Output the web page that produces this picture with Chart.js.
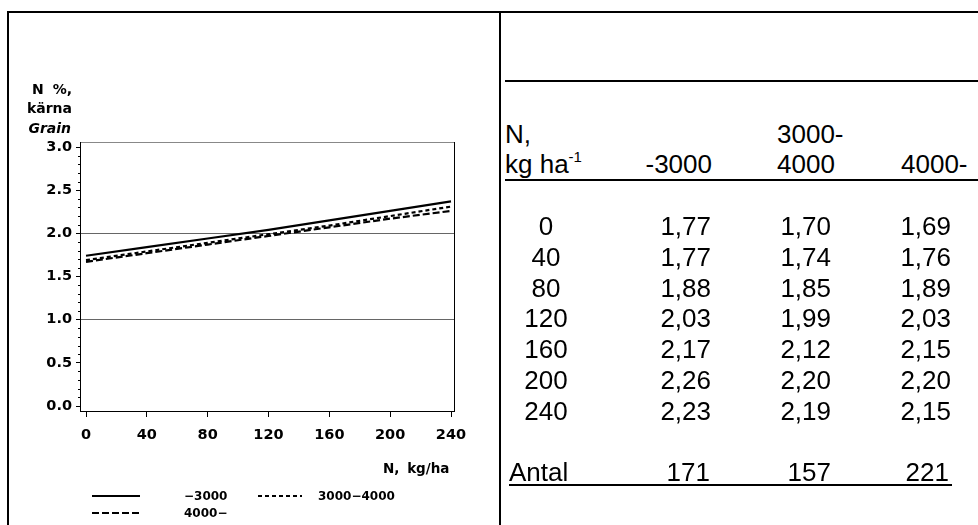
<!DOCTYPE html>
<html>
<head>
<meta charset="utf-8">
<script src="https://cdn.jsdelivr.net/npm/chart.js@4"></script>
<style>
  html, body { margin:0; padding:0; background:#fff; }
  body { width:978px; height:525px; position:relative; overflow:hidden; }
  #c { position:absolute; left:0; top:0; }
  .ln { position:absolute; background:#000; }
  .t { position:absolute; font-family:"Liberation Sans", Arial, sans-serif; font-size:26px; line-height:30px; color:#000; white-space:nowrap; }
  .lab { position:absolute; font-family:"DejaVu Sans", sans-serif; font-weight:bold; color:#000; white-space:nowrap; }
</style>
</head>
<body>
<canvas id="c" width="500" height="525"></canvas>
<div id="overlay"></div>
<script>
// ---- chart data ----
const nLevels = [0, 40, 80, 120, 160, 200, 240];
const seriesLabels = ['\u22123000', '3000\u22124000', '4000\u2212'];
const lineLow  = [1.74, 1.84, 1.94, 2.04, 2.15, 2.26, 2.37];
const lineMid  = [1.69, 1.79, 1.89, 1.99, 2.09, 2.20, 2.31];
const lineHigh = [1.67, 1.77, 1.87, 1.97, 2.07, 2.17, 2.26];
const xTicks = [0, 40, 80, 120, 160, 200, 240];
const yTicks = [0, 0.5, 1.0, 1.5, 2.0, 2.5, 3.0];
const refLines = [1.0, 2.0];

// ---- table data ----
const tableHeaders = ['-3000', '3000-4000', '4000-'];
const tabLow  = [1.77, 1.77, 1.88, 2.03, 2.17, 2.26, 2.23];
const tabMid  = [1.70, 1.74, 1.85, 1.99, 2.12, 2.20, 2.19];
const tabHigh = [1.69, 1.76, 1.89, 2.03, 2.15, 2.20, 2.15];
const counts  = [171, 157, 221];

const dashes = [[], [4, 3], [7, 3]];
const seriesData = [lineLow, lineMid, lineHigh];

const framePlugin = {
  id: 'frame',
  afterDraw(chart) {
    const { ctx, chartArea: a, scales } = chart;
    ctx.save();
    ctx.lineWidth = 1;
    ctx.strokeStyle = '#888';
    ctx.beginPath(); ctx.moveTo(a.left, a.top + 0.5); ctx.lineTo(a.right, a.top + 0.5); ctx.stroke();
    ctx.strokeStyle = '#000';
    ctx.beginPath();
    ctx.moveTo(a.right - 0.5, a.top); ctx.lineTo(a.right - 0.5, a.bottom);
    ctx.moveTo(a.left, a.bottom - 0.5); ctx.lineTo(a.right, a.bottom - 0.5);
    ctx.moveTo(a.left - 0.5, a.top); ctx.lineTo(a.left - 0.5, a.bottom);
    ctx.stroke();
    const y = scales.y;
    ctx.beginPath();
    for (let k = 0; k <= 30; k++) {
      if (k % 5 === 0) continue;
      const py = Math.round(y.getPixelForValue(k / 10)) + 0.5;
      ctx.moveTo(a.left - 3, py); ctx.lineTo(a.left, py);
    }
    ctx.stroke();
    ctx.restore();
  }
};

const chart = new Chart(document.getElementById('c'), {
  type: 'line',
  data: {
    datasets: seriesData.map((vals, i) => ({
      label: seriesLabels[i],
      data: nLevels.map((x, j) => ({ x: x, y: vals[j] })),
      borderColor: '#000',
      borderWidth: 2.2,
      borderDash: dashes[i],
      pointRadius: 0,
      fill: false,
      tension: 0
    }))
  },
  options: {
    responsive: false,
    animation: false,
    devicePixelRatio: 1,
    layout: { padding: { left: 41, right: 45, top: 142, bottom: 73 } },
    plugins: { legend: { display: false }, tooltip: { enabled: false } },
    scales: {
      x: {
        type: 'linear', min: -3.29, max: 242.63,
        afterBuildTicks: s => { s.ticks = xTicks.map(v => ({ value: v })); },
        afterFit: s => { s.height = 40; },
        grid: { drawOnChartArea: false, tickLength: 5, color: '#000', tickColor: '#000', lineWidth: 1 },
        border: { display: false },
        ticks: { color: '#000', padding: 10, maxRotation: 0, autoSkip: false,
                 font: { family: 'DejaVu Sans', weight: 'bold', size: 14.5 } }
      },
      y: {
        type: 'linear', min: -0.0695, max: 3.058,
        afterBuildTicks: s => { s.ticks = yTicks.map(v => ({ value: v })); },
        afterFit: s => { s.width = 40; },
        grid: {
          drawOnChartArea: true, tickLength: 5,
          color: c => (c.tick && refLines.includes(c.tick.value)) ? '#666' : 'rgba(0,0,0,0)',
          tickColor: '#000', lineWidth: 1
        },
        border: { display: false },
        ticks: { color: '#000', padding: 4, autoSkip: false,
                 callback: v => Number(v).toFixed(1),
                 font: { family: 'DejaVu Sans', weight: 'bold', size: 14.5 } }
      }
    }
  },
  plugins: [framePlugin]
});

// ---- overlay: borders, titles, legend, table ----
const ov = document.getElementById('overlay');
function add(html) { ov.insertAdjacentHTML('beforeend', html); }
function line(l, t, w, h) { add(`<div class="ln" style="left:${l}px;top:${t}px;width:${w}px;height:${h}px"></div>`); }

line(7, 11, 971, 2);
line(7, 11, 2, 514);
line(499, 11, 2, 514);
line(505, 80, 473, 2);
line(505, 179, 473, 2);
line(509, 484, 443, 2);

// y-axis title
add(`<div class="lab" style="right:${978-72}px;top:81px;font-size:14px;line-height:16px;text-align:right;word-spacing:4px">N %,</div>`);
add(`<div class="lab" style="right:${978-72}px;top:100px;font-size:14px;line-height:16px;text-align:right">kärna</div>`);
add(`<div class="lab" style="right:${978-71}px;top:120px;font-size:14px;line-height:16px;text-align:right;font-style:italic">Grain</div>`);
// x-axis title
add(`<div class="lab" style="left:383px;top:460px;font-size:13.5px;line-height:16px;word-spacing:3px">N, kg/ha</div>`);

// legend built from the datasets
const legPos = [{sx:92, tx:184, y:496}, {sx:258, tx:318, y:496}, {sx:92, tx:184, y:513}];
chart.data.datasets.forEach((ds, i) => {
  const p = legPos[i];
  const w = i === 1 ? 44 : 48;
  add(`<svg style="position:absolute;left:${p.sx}px;top:${p.y-2}px" width="${w}" height="4"><line x1="0" y1="2" x2="${w}" y2="2" stroke="#000" stroke-width="2" stroke-dasharray="${ds.borderDash.length ? ds.borderDash.join(',') : 'none'}"/></svg>`);
  add(`<div class="lab" style="left:${p.tx}px;top:${p.y-7}px;font-size:12px;line-height:14px">${ds.label}</div>`);
});

// table
const fmt = v => v.toFixed(2).replace('.', ',');
add(`<div class="t" style="left:505px;top:${143-24}px">N,</div>`);
add(`<div class="t" style="left:505px;top:${173-24}px">kg ha<span style="font-size:15px;position:relative;top:-11px">-1</span></div>`);
add(`<div class="t" style="right:${978-712}px;top:${173-24}px">${tableHeaders[0]}</div>`);
add(`<div class="t" style="left:777px;top:${143-24}px">3000-</div>`);
add(`<div class="t" style="left:777px;top:${173-24}px">4000</div>`);
add(`<div class="t" style="left:901px;top:${173-24}px">${tableHeaders[2]}</div>`);
const colRights = [711, 831, 951];
const cols = [tabLow, tabMid, tabHigh];
nLevels.forEach((n, i) => {
  const base = 235 + i * 30.8;
  add(`<div class="t" style="left:${546-60}px;width:120px;text-align:center;top:${base-24}px">${n}</div>`);
  cols.forEach((c, j) => {
    add(`<div class="t" style="right:${978-colRights[j]}px;top:${base-24}px">${fmt(c[i])}</div>`);
  });
});
add(`<div class="t" style="left:509px;top:${481-24}px">Antal</div>`);
const cntRights = [710, 831, 949];
counts.forEach((c, j) => add(`<div class="t" style="right:${978-cntRights[j]}px;top:${481-24}px">${c}</div>`));
</script>
</body>
</html>
